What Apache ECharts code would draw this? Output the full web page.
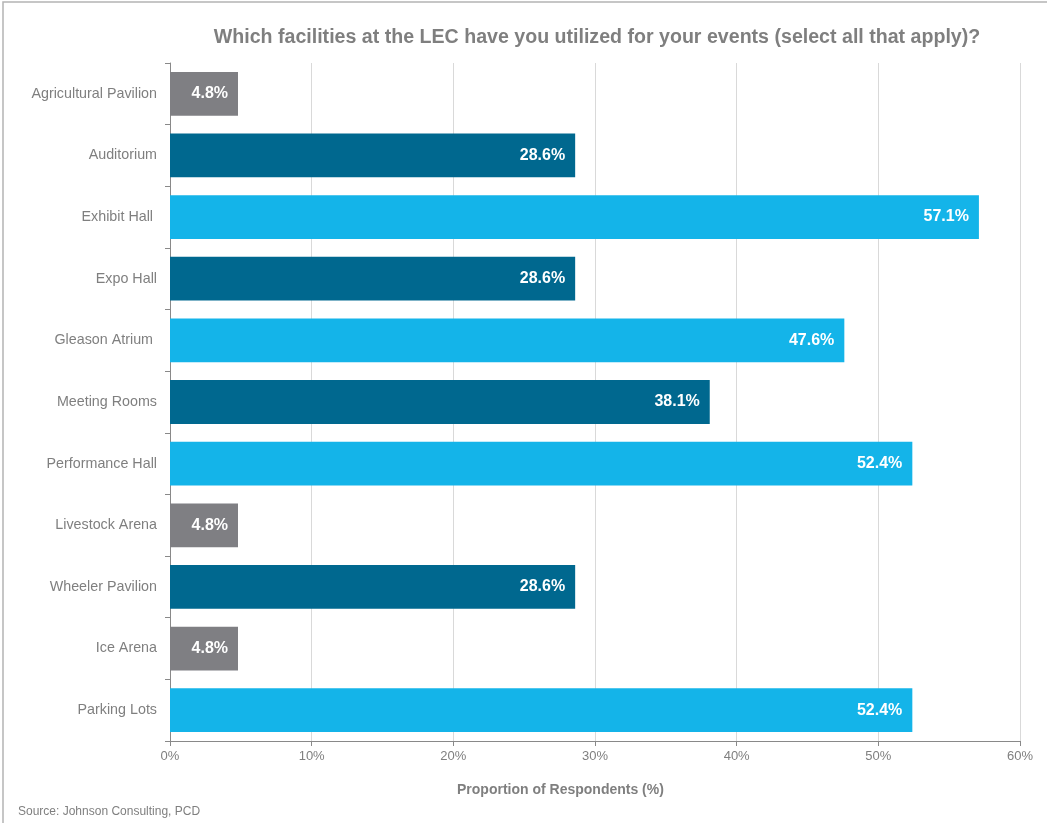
<!DOCTYPE html>
<html><head><meta charset="utf-8">
<script src="https://cdn.jsdelivr.net/npm/echarts@6/dist/echarts.min.js"></script>
<style>html,body{margin:0;padding:0;background:#fff}#c{width:1047px;height:823px}</style>
</head><body><div id="c"></div>
<script>
const categories = ["Agricultural Pavilion","Auditorium","Exhibit Hall ","Expo Hall","Gleason Atrium ","Meeting Rooms","Performance Hall","Livestock Arena","Wheeler Pavilion","Ice Arena","Parking Lots"];
const values = [4.8,28.6,57.1,28.6,47.6,38.1,52.4,4.8,28.6,4.8,52.4];
const xTicks = [0,10,20,30,40,50,60];
const titleText = "Which facilities at the LEC have you utilized for your events (select all that apply)?";
const axisTitle = "Proportion of Respondents (%)";
const sourceText = "Source: Johnson Consulting, PCD";

function colorFor(v){ return v < 10 ? '#7f7f83' : (v < 40 ? '#00688f' : '#14b4e9'); }
const FONT = '"Liberation Sans", Arial, sans-serif';
const chart = echarts.init(document.getElementById('c'));
chart.setOption({
  animation:false,
  title:{text:titleText,left:592,top:23,textAlign:'center',textStyle:{fontFamily:FONT,fontSize:19.6,fontWeight:'bold',color:'#7f7f7f'}},
  grid:{left:170,right:27,top:63,bottom:82,containLabel:false},
  xAxis:{type:'value',min:xTicks[0],max:xTicks[xTicks.length-1],interval:10,
    axisLine:{show:true,lineStyle:{color:'#898989'}},
    axisTick:{show:true,length:5,lineStyle:{color:'#898989'}},
    axisLabel:{formatter:'{value}%',color:'#7f7f7f',fontFamily:FONT,fontSize:13,margin:9},
    splitLine:{show:true,lineStyle:{color:'#d9d9d9'}}},
  yAxis:{type:'category',data:categories,inverse:true,
    axisLine:{show:true,lineStyle:{color:'#898989'}},
    axisTick:{show:true,length:5,alignWithLabel:false,lineStyle:{color:'#898989'}},
    axisLabel:{color:'#7f7f7f',fontFamily:FONT,fontSize:14.3,margin:13}},
  series:[{type:'bar',barCategoryGap:'29%',
    data:values.map(v=>({value:v,itemStyle:{color:colorFor(v)}})),
    label:{show:true,position:'insideRight',distance:10,formatter:p=>p.value.toFixed(1)+'%',color:'#fff',fontFamily:FONT,fontSize:16,fontWeight:'bold'}}],
  graphic:[
    {type:'rect',shape:{x:3,y:2,width:1100,height:900},style:{fill:'none',stroke:'#b4b4b4',lineWidth:1.5},silent:true},
    {type:'text',left:457,top:783,style:{text:axisTitle,fill:'#7f7f7f',font:'bold 14px '+FONT}},
    {type:'text',left:18,top:806,style:{text:sourceText,fill:'#7f7f7f',font:'12px '+FONT}}
  ]
});
</script></body></html>
